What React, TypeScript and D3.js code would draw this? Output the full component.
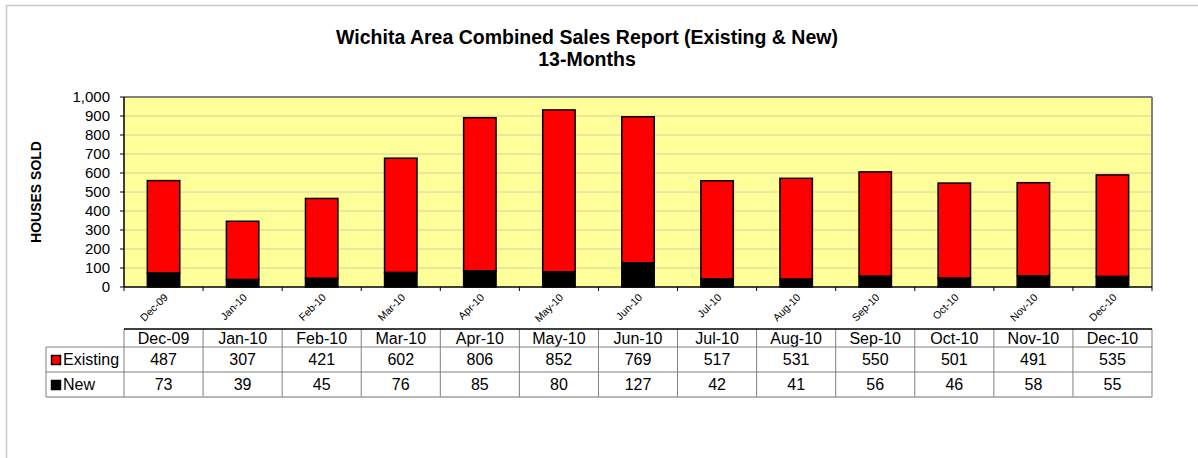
import React from "react";
import * as d3 from "d3";

const categories = ["Dec-09", "Jan-10", "Feb-10", "Mar-10", "Apr-10", "May-10", "Jun-10", "Jul-10", "Aug-10", "Sep-10", "Oct-10", "Nov-10", "Dec-10"];
const existing = [487, 307, 421, 602, 806, 852, 769, 517, 531, 550, 501, 491, 535];
const newHomes = [73, 39, 45, 76, 85, 80, 127, 42, 41, 56, 46, 58, 55];
const yTicks = [0, 100, 200, 300, 400, 500, 600, 700, 800, 900, 1000];

const FONT = "'Liberation Sans', Arial, Helvetica, sans-serif";

export default function App() {
  const W = 1198, H = 458;
  const left = 124, right = 1152, top = 97, bottom = 287;
  const x = d3.scaleBand<string>().domain(categories).range([left, right]).paddingInner(0).paddingOuter(0);
  const y = d3.scaleLinear().domain([0, 1000]).range([bottom, top]);
  const bw = x.bandwidth() * 0.41;
  const fmt = d3.format(",");

  const tHeadTop = 329, tRow1 = 347, tRow2 = 372, tBot = 397, legLeft = 46;

  return (
    <svg width={W} height={H} style={{ position: "absolute", left: 0, top: 0 }} fontFamily={FONT}>
      <rect x={0} y={0} width={W} height={H} fill="#fff" />
      <line x1={6} y1={5.5} x2={W} y2={5.5} stroke="#c8c8c8" strokeWidth={1.5} />
      <line x1={6.5} y1={5} x2={6.5} y2={H} stroke="#c8c8c8" strokeWidth={1.5} />

      {/* Title */}
      <text x={587} y={44} textAnchor="middle" fontSize={19.5} fontWeight="bold">Wichita Area Combined Sales Report (Existing &amp; New)</text>
      <text x={587} y={66} textAnchor="middle" fontSize={19.5} fontWeight="bold">13-Months</text>

      {/* Plot area */}
      <rect x={left} y={top} width={right - left} height={bottom - top} fill="#FFFF99" />
      {yTicks.filter(t => t > 0).map(t => (
        <line key={t} x1={left} x2={right} y1={y(t)} y2={y(t)} stroke="#d0d0a8" strokeWidth={1} />
      ))}
      <line x1={left} x2={right} y1={top} y2={top} stroke="#808080" strokeWidth={2} />
      <line x1={right} x2={right} y1={top} y2={bottom} stroke="#808080" strokeWidth={2} />

      {/* Bars */}
      {categories.map((c, i) => {
        const cx = (x(c) as number) + x.bandwidth() / 2;
        const n = newHomes[i], e = existing[i];
        return (
          <g key={c}>
            <rect x={cx - bw / 2} y={y(n + e)} width={bw} height={y(n) - y(n + e)} fill="#FF0000" stroke="#000" strokeWidth={1.5} />
            <rect x={cx - bw / 2} y={y(n)} width={bw} height={y(0) - y(n)} fill="#000" stroke="#000" strokeWidth={1.5} />
          </g>
        );
      })}

      {/* Axes */}
      <line x1={left} x2={left} y1={top} y2={bottom} stroke="#000" strokeWidth={1.5} />
      <line x1={left} x2={right} y1={bottom} y2={bottom} stroke="#000" strokeWidth={1.5} />
      {yTicks.map(t => (
        <g key={t}>
          <line x1={left - 4} x2={left} y1={y(t)} y2={y(t)} stroke="#000" />
          <text x={110} y={y(t)} dy="0.36em" textAnchor="end" fontSize={15}>{fmt(t)}</text>
        </g>
      ))}
      {categories.map((c) => (
        <line key={c} x1={(x(c) as number)} x2={(x(c) as number)} y1={bottom} y2={bottom + 4} stroke="#000" />
      ))}
      <line x1={right} x2={right} y1={bottom} y2={bottom + 4} stroke="#000" />
      {categories.map(c => {
        const cx = (x(c) as number) + x.bandwidth() / 2 + 5;
        return (
          <text key={c} transform={`translate(${cx},${298}) rotate(-45)`} textAnchor="end" fontSize={10.5}>{c}</text>
        );
      })}

      <text transform={`translate(41,${(top + bottom) / 2}) rotate(-90)`} textAnchor="middle" fontSize={14} fontWeight="bold">HOUSES SOLD</text>

      {/* Data table */}
      {categories.map((c, i) => {
        const x0 = x(c) as number;
        const cx = x0 + x.bandwidth() / 2;
        return (
          <g key={c}>
            <text x={cx} y={344} textAnchor="middle" fontSize={16}>{c}</text>
            <text x={cx} y={365} textAnchor="middle" fontSize={16}>{existing[i]}</text>
            <text x={cx} y={390} textAnchor="middle" fontSize={16}>{newHomes[i]}</text>
          </g>
        );
      })}
      {[...categories.map(c => x(c) as number), right].map((bx, i) => (
        <line key={i} x1={bx} x2={bx} y1={tHeadTop} y2={tBot} stroke="#808080" strokeWidth={1} />
      ))}
      <line x1={legLeft} x2={legLeft} y1={tRow1} y2={tBot} stroke="#808080" />
      <line x1={legLeft} x2={right} y1={tRow1} y2={tRow1} stroke="#808080" />
      <line x1={legLeft} x2={right} y1={tRow2} y2={tRow2} stroke="#808080" />
      <line x1={legLeft} x2={right} y1={tBot} y2={tBot} stroke="#a0a0a0" strokeWidth={1.5} />
      <line x1={left} x2={right} y1={tHeadTop} y2={tHeadTop} stroke="#000" strokeWidth={1.5} />

      <rect x={51.5} y={355.5} width={9} height={9} fill="#FF0000" stroke="#000" strokeWidth={1.5} />
      <text x={63} y={365} fontSize={16}>Existing</text>
      <rect x={51.5} y={380.5} width={9} height={9} fill="#000" stroke="#000" strokeWidth={1.5} />
      <text x={63} y={390} fontSize={16}>New</text>
    </svg>
  );
}
